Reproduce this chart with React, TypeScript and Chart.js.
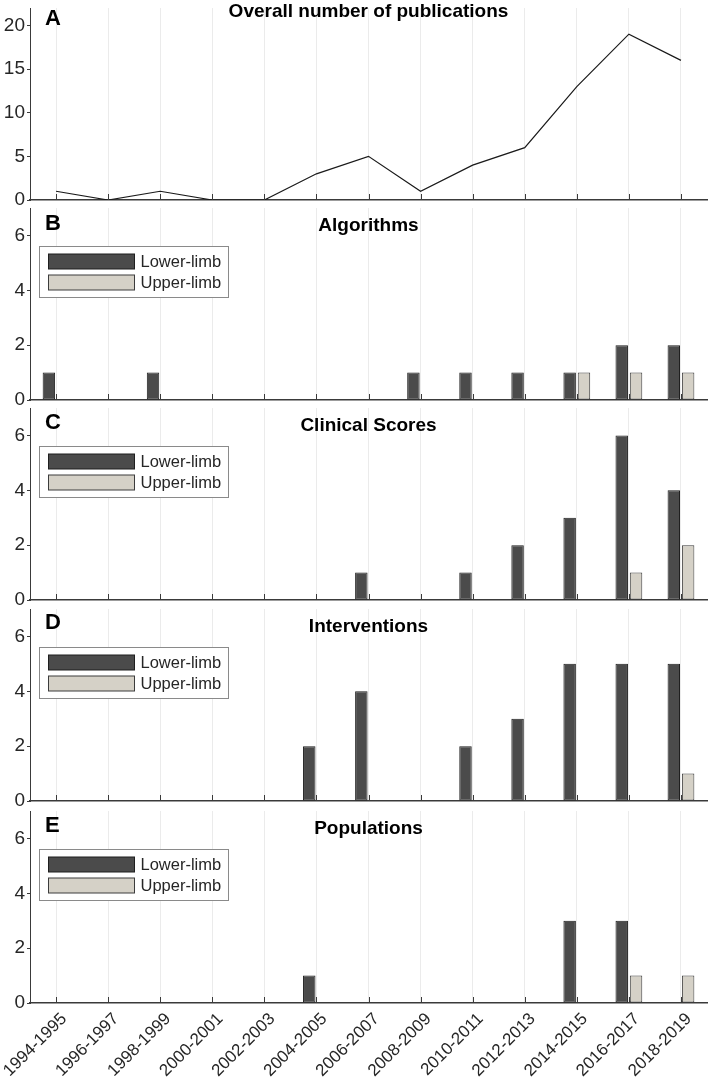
import React, { useEffect, useRef } from "react";
import { Chart, registerables } from "chart.js";

Chart.register(...registerables);

const categories = [
  "1994-1995", "1996-1997", "1998-1999", "2000-2001", "2002-2003", "2004-2005",
  "2006-2007", "2008-2009", "2010-2011", "2012-2013", "2014-2015", "2016-2017", "2018-2019",
];

const overallPublications = [1, 0, 1, 0, 0, 3, 5, 1, 4, 6, 13, 19, 16];

const algorithmsLower = [1, 0, 1, 0, 0, 0, 0, 1, 1, 1, 1, 2, 2];
const algorithmsUpper = [0, 0, 0, 0, 0, 0, 0, 0, 0, 0, 1, 1, 1];

const clinicalLower = [0, 0, 0, 0, 0, 0, 1, 0, 1, 2, 3, 6, 4];
const clinicalUpper = [0, 0, 0, 0, 0, 0, 0, 0, 0, 0, 0, 1, 2];

const interventionsLower = [0, 0, 0, 0, 0, 2, 4, 0, 2, 3, 5, 5, 5];
const interventionsUpper = [0, 0, 0, 0, 0, 0, 0, 0, 0, 0, 0, 0, 1];

const populationsLower = [0, 0, 0, 0, 0, 1, 0, 0, 0, 0, 3, 3, 0];
const populationsUpper = [0, 0, 0, 0, 0, 0, 0, 0, 0, 0, 0, 1, 1];

const seriesLabels = ["Lower-limb", "Upper-limb"];
const panelLetters = ["A", "B", "C", "D", "E"];
const panelTitles = [
  "Overall number of publications",
  "Algorithms",
  "Clinical Scores",
  "Interventions",
  "Populations",
];
const overallAxisMax = 22;
const overallTickStep = 5;
const countAxisMax = 7;
const countTickStep = 2;

const FONT = '"Liberation Sans", Arial, Helvetica, sans-serif';
const AXIS_COLOR = "#3a3a3a";
const TEXT_COLOR = "#262626";
const LOWER_FILL = "#4b4b4b";
const LOWER_EDGE = "#1e1e1e";
const UPPER_FILL = "#d5d1c7";
const UPPER_EDGE = "#3c3c3c";

type PanelSpec = {
  index: number;
  kind: "line" | "bar";
  series: number[][];
  yMax: number;
  yStep: number;
  areaBottom: number;
  showXLabels: boolean;
  legend: boolean;
  titleOffset: number;
  letterOffset: number;
};

const AREA_H = 192;
const TOP_EXTRA = 30;
const PAGE_H = 1082;
const PAGE_W = 709;

const panels: PanelSpec[] = [
  { index: 0, kind: "line", series: [overallPublications], yMax: overallAxisMax, yStep: overallTickStep, areaBottom: 200, showXLabels: false, legend: false, titleOffset: 9, letterOffset: 17 },
  { index: 1, kind: "bar", series: [algorithmsLower, algorithmsUpper], yMax: countAxisMax, yStep: countTickStep, areaBottom: 400, showXLabels: false, legend: true, titleOffset: 23, letterOffset: 22 },
  { index: 2, kind: "bar", series: [clinicalLower, clinicalUpper], yMax: countAxisMax, yStep: countTickStep, areaBottom: 600, showXLabels: false, legend: true, titleOffset: 23, letterOffset: 21 },
  { index: 3, kind: "bar", series: [interventionsLower, interventionsUpper], yMax: countAxisMax, yStep: countTickStep, areaBottom: 801, showXLabels: false, legend: true, titleOffset: 23, letterOffset: 20 },
  { index: 4, kind: "bar", series: [populationsLower, populationsUpper], yMax: countAxisMax, yStep: countTickStep, areaBottom: 1003, showXLabels: true, legend: true, titleOffset: 23, letterOffset: 21 },
];

function makeDecor(spec: PanelSpec) {
  return {
    id: "panelDecor" + spec.index,
    afterDatasetsDraw(chart: any) {
      const { ctx, chartArea, scales } = chart;
      const xs = scales.x;
      ctx.save();
      // inward tick marks on x axis
      ctx.strokeStyle = AXIS_COLOR;
      ctx.lineWidth = 1;
      for (let i = 0; i < xs.ticks.length; i++) {
        const px = Math.round(xs.getPixelForTick(i)) + 0.5;
        ctx.beginPath();
        ctx.moveTo(px, chartArea.bottom);
        ctx.lineTo(px, chartArea.bottom - 6);
        ctx.stroke();
      }
      // panel letter
      ctx.fillStyle = "#000";
      ctx.textBaseline = "alphabetic";
      ctx.textAlign = "left";
      ctx.font = `bold 22px ${FONT}`;
      ctx.fillText(panelLetters[spec.index], chartArea.left + 15, chartArea.top + spec.letterOffset);
      // title
      ctx.textAlign = "center";
      ctx.font = `bold 19px ${FONT}`;
      ctx.fillText(panelTitles[spec.index], (chartArea.left + chartArea.right) / 2, chartArea.top + spec.titleOffset);
      // legend
      if (spec.legend) {
        const bx = chartArea.left + 9.5;
        const by = chartArea.top + 38.5;
        const bw = 189;
        const bh = 51;
        ctx.fillStyle = "#fff";
        ctx.fillRect(bx, by, bw, bh);
        ctx.strokeStyle = "#8a8a8a";
        ctx.lineWidth = 1;
        ctx.strokeRect(bx, by, bw, bh);
        chart.data.datasets.forEach((ds: any, i: number) => {
          const sy = by + 7.5 + i * 21;
          ctx.fillStyle = ds.backgroundColor;
          ctx.fillRect(bx + 9, sy, 86, 15);
          ctx.strokeStyle = ds.borderColor;
          ctx.strokeRect(bx + 9, sy, 86, 15);
          ctx.fillStyle = TEXT_COLOR;
          ctx.textAlign = "left";
          ctx.textBaseline = "middle";
          ctx.font = `16.5px ${FONT}`;
          ctx.fillText(ds.label, bx + 101, sy + 8);
        });
      }
      ctx.restore();
    },
  };
}

function Panel({ spec }: { spec: PanelSpec }) {
  const ref = useRef<HTMLCanvasElement | null>(null);
  const areaTop = spec.areaBottom - AREA_H;
  const canvasTop = areaTop - TOP_EXTRA;
  const bottomExtra = spec.showXLabels ? PAGE_H - spec.areaBottom : 20;
  const canvasH = spec.areaBottom + bottomExtra - canvasTop;

  useEffect(() => {
    if (!ref.current) return;
    const datasets =
      spec.kind === "line"
        ? [
            {
              label: panelTitles[0],
              data: spec.series[0],
              borderColor: "#1a1a1a",
              borderWidth: 1.2,
              pointRadius: 0,
              tension: 0,
              fill: false,
            },
          ]
        : [
            {
              label: seriesLabels[0],
              data: spec.series[0],
              backgroundColor: LOWER_FILL,
              borderColor: LOWER_EDGE,
              borderWidth: 1,
              borderSkipped: false,
              categoryPercentage: 0.55,
              barPercentage: 0.87,
            },
            {
              label: seriesLabels[1],
              data: spec.series[1],
              backgroundColor: UPPER_FILL,
              borderColor: UPPER_EDGE,
              borderWidth: 1,
              borderSkipped: false,
              categoryPercentage: 0.55,
              barPercentage: 0.87,
            },
          ];

    const chart = new Chart(ref.current, {
      type: spec.kind,
      data: { labels: categories, datasets: datasets as any },
      options: {
        animation: false,
        responsive: false,
        maintainAspectRatio: false,
        layout: { padding: { top: TOP_EXTRA, left: 0, right: 2, bottom: spec.showXLabels ? 0 : bottomExtra } },
        plugins: { legend: { display: false }, title: { display: false }, tooltip: { enabled: false } },
        scales: {
          x: {
            type: "category",
            offset: true,
            grid: {
              offset: false,
              color: "#ebebeb",
              lineWidth: 1,
              drawTicks: false,
            },
            border: { display: true, color: AXIS_COLOR, width: 1.5 },
            ticks: {
              display: spec.showXLabels,
              autoSkip: false,
              minRotation: 45,
              maxRotation: 45,
              padding: 6,
              labelOffset: 8,
              color: TEXT_COLOR,
              font: { family: FONT, size: 17 },
            },
            afterFit: (scale: any) => {
              scale.height = spec.showXLabels ? bottomExtra : 0;
              scale.paddingLeft = 0;
              scale.paddingRight = 0;
            },
          } as any,
          y: {
            min: 0,
            max: spec.yMax,
            grid: {
              drawOnChartArea: false,
              drawTicks: true,
              tickLength: 3,
              color: AXIS_COLOR,
            },
            border: { display: true, color: AXIS_COLOR, width: 1 },
            ticks: {
              stepSize: spec.yStep,
              includeBounds: false,
              padding: 2,
              color: TEXT_COLOR,
              font: { family: FONT, size: 19 },
            },
            afterFit: (scale: any) => {
              scale.width = 30;
            },
          } as any,
        },
      },
      plugins: [makeDecor(spec)],
    });
    return () => chart.destroy();
  }, []);

  return (
    <canvas
      ref={ref}
      width={PAGE_W}
      height={canvasH}
      style={{ position: "absolute", left: 0, top: canvasTop, width: PAGE_W, height: canvasH }}
    />
  );
}

export default function App() {
  return (
    <div
      style={{
        position: "absolute",
        left: 0,
        top: 0,
        width: PAGE_W,
        height: PAGE_H,
        overflow: "hidden",
        background: "#fff",
      }}
    >
      {panels.map((p) => (
        <Panel key={p.index} spec={p} />
      ))}
    </div>
  );
}
